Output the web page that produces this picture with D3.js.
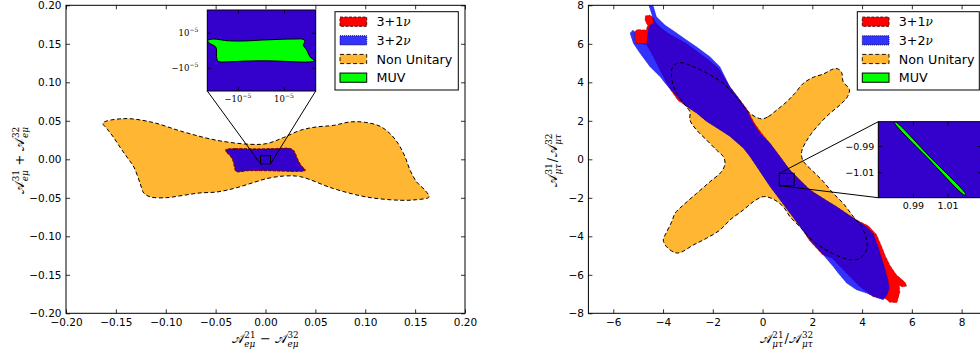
<!DOCTYPE html>
<html><head><meta charset="utf-8">
<script src="https://cdn.jsdelivr.net/npm/d3@7"></script>
<style>body{margin:0;background:#fff}svg{display:block}</style>
</head><body><svg id="c" width="980" height="360"></svg>
<script>
// ---------------- data ----------------
const leftXTicks=[-0.20,-0.15,-0.10,-0.05,0.00,0.05,0.10,0.15,0.20];
const leftYTicks=[-0.20,-0.15,-0.10,-0.05,0.00,0.05,0.10,0.15,0.20];
const rightXTicks=[-6,-4,-2,0,2,4,6,8];
const rightYTicks=[-8,-6,-4,-2,0,2,4,6,8];
const leftInsetTicks=[-1e-5,1e-5];
const rightInsetXTicks=[0.99,1.01];
const rightInsetYTicks=[-1.01,-0.99];
const legendLabels=[["3+1","ν"],["3+2","ν"],["Non Unitary",""],["MUV",""]];

// left panel (A21-A32 vs A31+A32, e-mu)
const leftNonUnitary=[[-0.163,0.047],[-0.1425,0.0528],[-0.115,0.0485],[-0.082,0.0355],[-0.049,0.0247],[-0.0155,0.0195],[0.0012,0.0204],[0.018,0.0282],[0.035,0.0377],[0.051,0.042],[0.068,0.044],[0.0847,0.0485],[0.100,0.048],[0.1148,0.0429],[0.1248,0.0334],[0.133,0.0204],[0.140,0.003],[0.145,-0.0143],[0.1516,-0.0295],[0.160,-0.0403],[0.164,-0.049],[0.1516,-0.0524],[0.135,-0.0532],[0.1015,-0.049],[0.068,-0.038],[0.035,-0.0226],[0.018,-0.0218],[0.0012,-0.0251],[-0.0155,-0.0316],[-0.032,-0.038],[-0.049,-0.0425],[-0.0657,-0.0437],[-0.0825,-0.0468],[-0.099,-0.0498],[-0.115,-0.049],[-0.122,-0.0437],[-0.1256,-0.0316],[-0.132,-0.010],[-0.139,0.003],[-0.146,0.016],[-0.1526,0.029],[-0.159,0.0398]];
const leftRed=[[-0.0398,0.0126],[-0.0306,0.0140],[-0.0105,0.0136],[0.0095,0.0140],[0.0251,0.0140],[0.0286,0.0110],[0.0320,0.0014],[0.0354,-0.0072],[0.0400,-0.0144],[0.0330,-0.0158],[0.0162,-0.0154],[-0.0005,-0.0149],[-0.0172,-0.0149],[-0.0296,-0.0158],[-0.0313,-0.0096],[-0.0330,-0.0009],[-0.0364,0.0058],[-0.0398,0.0101]];
const leftBlue=[[-0.0389,0.0121],[-0.0306,0.0134],[-0.0105,0.0130],[0.0095,0.0134],[0.0246,0.0134],[0.0279,0.0108],[0.0313,0.0013],[0.0346,-0.0074],[0.0389,-0.0139],[0.0329,-0.0152],[0.0162,-0.0148],[-0.0005,-0.0143],[-0.0172,-0.0143],[-0.0289,-0.0152],[-0.0306,-0.0096],[-0.0323,-0.0009],[-0.0356,0.0056],[-0.0389,0.0099]];
const leftMUV=[[-2.29e-5,0.58e-5],[-2.07e-5,0.64e-5],[-1.42e-5,0.54e-5],[-0.70e-5,0.53e-5],[0.03e-5,0.58e-5],[0.75e-5,0.62e-5],[1.48e-5,0.64e-5],[1.84e-5,0.62e-5],[1.91e-5,0.49e-5],[1.84e-5,0.30e-5],[1.99e-5,0.01e-5],[2.13e-5,-0.37e-5],[2.32e-5,-0.60e-5],[2.06e-5,-0.67e-5],[1.48e-5,-0.66e-5],[0.75e-5,-0.62e-5],[0.03e-5,-0.60e-5],[-0.70e-5,-0.62e-5],[-1.42e-5,-0.66e-5],[-1.86e-5,-0.63e-5],[-1.93e-5,-0.37e-5],[-1.93e-5,0.01e-5],[-1.97e-5,0.20e-5],[-2.22e-5,0.39e-5],[-2.32e-5,0.54e-5]];
const leftZoomX=[-0.005,0.005], leftZoomY=[-0.006,0.0047];
const leftInsetX=[-2.33e-5,2.38e-5], leftInsetY=[-2.33e-5,2.30e-5];

// right panel (A21/A32 vs A31/A32, mu-tau)
const rightNonUnitary=[[-0.04,2.10],[0.23,2.22],[0.57,2.56],[0.97,2.99],[1.30,3.43],[1.64,3.95],[2.04,4.26],[2.44,4.43],[2.84,4.69],[3.04,4.69],[3.18,4.50],[3.24,4.03],[3.49,3.63],[3.41,3.25],[3.11,2.82],[2.71,2.39],[2.31,1.87],[1.97,1.35],[1.71,0.83],[1.57,0.40],[1.61,-0.04],[1.77,-0.30],[2.11,-0.73],[2.44,-1.16],[2.84,-1.77],[3.24,-2.29],[3.65,-2.98],[3.98,-3.50],[4.18,-4.19],[4.18,-4.71],[3.91,-5.14],[3.58,-5.23],[3.11,-5.06],[2.44,-4.62],[1.91,-4.10],[1.50,-3.50],[1.10,-2.98],[0.83,-2.46],[0.40,-2.05],[0.03,-1.94],[-0.37,-2.20],[-0.77,-2.63],[-1.31,-3.15],[-1.71,-3.67],[-2.25,-4.10],[-2.78,-4.45],[-3.32,-4.85],[-3.52,-4.85],[-3.86,-4.54],[-3.99,-4.19],[-3.88,-3.84],[-3.65,-3.24],[-3.52,-2.81],[-3.18,-2.37],[-2.65,-1.77],[-2.11,-1.16],[-1.65,-0.64],[-1.51,-0.21],[-1.58,0.14],[-1.85,0.48],[-2.25,1.00],[-2.65,1.52],[-2.92,2.04],[-2.92,2.47],[-3.18,2.91],[-3.52,3.60],[-3.65,4.20],[-3.61,4.81],[-3.32,5.02],[-2.78,4.81],[-2.11,4.38],[-1.58,3.95],[-1.31,3.60],[-0.91,3.00],[-0.51,2.39]];
const rightRed=[[-4.72,7.20],[-4.72,7.45],[-4.55,7.50],[-4.42,7.40],[-4.30,7.12],[-4.15,6.90],[-3.80,6.55],[-3.10,6.05],[-2.20,5.20],[-1.75,4.70],[-1.33,3.80],[-1.00,3.25],[-0.62,2.60],[-0.33,1.88],[-0.04,1.36],[0.30,0.83],[0.70,0.14],[1.10,-0.56],[1.50,-1.07],[1.91,-1.59],[2.44,-2.03],[2.98,-2.46],[3.38,-2.81],[3.78,-3.15],[4.25,-3.45],[4.58,-3.90],[4.78,-4.50],[4.93,-5.00],[5.12,-5.50],[5.38,-6.00],[5.72,-6.38],[5.80,-6.58],[5.62,-6.64],[5.50,-6.55],[5.52,-6.90],[5.40,-7.45],[5.10,-7.42],[4.95,-7.25],[4.72,-7.22],[4.44,-7.14],[3.91,-6.62],[3.51,-6.10],[3.10,-5.55],[2.80,-5.15],[2.40,-4.95],[1.88,-4.22],[1.50,-3.45],[1.10,-2.78],[0.70,-2.09],[0.30,-1.40],[0.03,-0.88],[-0.24,-0.36],[-0.51,0.16],[-0.77,0.59],[-1.31,1.20],[-1.71,1.54],[-2.25,1.98],[-2.65,2.41],[-3.05,2.76],[-3.40,3.05],[-3.75,3.70],[-3.99,4.29],[-4.39,5.33],[-4.66,5.95],[-5.13,6.05],[-5.15,6.60],[-5.05,6.74],[-4.68,6.72],[-4.62,6.95]];
const rightBlue=[[-4.62,8.10],[-4.42,8.10],[-4.26,7.41],[-3.92,6.98],[-3.52,6.63],[-3.05,6.20],[-2.65,5.85],[-2.11,5.33],[-1.71,4.81],[-1.31,3.77],[-0.91,3.08],[-0.64,2.56],[-0.37,1.87],[-0.10,1.35],[0.30,0.83],[0.70,0.14],[1.10,-0.56],[1.50,-1.07],[1.91,-1.59],[2.44,-2.03],[2.98,-2.46],[3.38,-2.81],[3.78,-3.15],[4.18,-3.50],[4.45,-3.85],[4.65,-4.54],[4.75,-5.00],[4.90,-5.60],[5.05,-6.30],[5.10,-6.70],[5.00,-7.05],[4.85,-7.31],[4.65,-7.22],[4.18,-6.96],[3.78,-6.79],[3.38,-6.44],[3.04,-5.92],[2.84,-5.58],[2.44,-4.97],[1.91,-4.19],[1.50,-3.50],[1.10,-2.80],[0.70,-2.11],[0.30,-1.42],[0.03,-0.90],[-0.24,-0.38],[-0.51,0.14],[-0.77,0.57],[-1.31,1.18],[-1.71,1.52],[-2.25,1.96],[-2.65,2.39],[-3.05,2.73],[-3.32,3.08],[-3.92,3.95],[-4.12,4.29],[-4.53,4.81],[-4.93,5.51],[-5.20,6.03],[-5.33,6.55],[-5.22,6.72],[-5.13,6.62],[-5.13,6.05],[-4.66,6.00],[-4.60,6.70],[-4.55,6.95],[-4.38,7.10],[-4.45,7.50],[-4.55,7.90]];
const rightMUV=[[0.9800,-0.9718],[1.0000,-0.9985],[1.0205,-1.0268],[1.0198,-1.0272],[0.9995,-1.0005],[0.9794,-0.9722]];
const rightZoomX=[0.67,1.27], rightZoomY=[-1.37,-0.73];
const rightInsetX=[0.97,1.03], rightInsetY=[-1.0293,-0.9715];

const leftXLabel=[{b:"𝒜",sup:"21",sub:"eμ"},{op:"−",pad:4},{b:"𝒜",sup:"32",sub:"eμ"}];
const leftYLabel=[{b:"𝒜",sup:"31",sub:"eμ"},{op:"+",pad:4},{b:"𝒜",sup:"32",sub:"eμ"}];
const rightXLabel=[{b:"𝒜",sup:"21",sub:"μτ"},{op:"/",pad:0.5},{b:"𝒜",sup:"32",sub:"μτ"}];
const rightYLabel=[{b:"𝒜",sup:"31",sub:"μτ"},{op:"/",pad:0.5},{b:"𝒜",sup:"32",sub:"μτ"}];

// ---------------- styles ----------------
const ST={
  red:{fill:"#ff0000",op:1,stroke:"#400",sw:0.7,dash:"3,1.5"},
  blue:{fill:"#0000ff",op:0.8,stroke:"#003",sw:0.6,dash:"1,1.2"},
  orange:{fill:"#ffa500",op:0.8,stroke:"#000",sw:1,dash:"4,2.5"},
  green:{fill:"#00ff00",op:1,stroke:"#000",sw:1,dash:null}
};
const SANS="DejaVu Sans", SERIF="DejaVu Serif";
const svg=d3.select("#c");
const defs=svg.append("defs");

// scales
const lx=d3.scaleLinear([-0.2,0.2],[66,465]), ly=d3.scaleLinear([-0.2,0.2],[313.3,5.3]);
const rx=d3.scaleLinear([-7,9],[588.4,986.5]), ry=d3.scaleLinear([-8,8],[313.3,5.3]);
const lix=d3.scaleLinear(leftInsetX,[207.3,315.7]), liy=d3.scaleLinear(leftInsetY,[91,10]);
const rix=d3.scaleLinear(rightInsetX,[878.3,982.1]), riy=d3.scaleLinear(rightInsetY,[197.7,121.7]);

let clipN=0;
function clipFor(x,y){
  const id="clip"+(clipN++);
  const [x0,x1]=x.range(), [y0,y1]=y.range();
  defs.append("clipPath").attr("id",id).append("rect").attr("x",x0).attr("y",y1).attr("width",x1-x0).attr("height",y0-y1);
  return "url(#"+id+")";
}
function region(g,data,x,y,st,smooth,withStroke=true,withFill=true){
  const line=d3.line().x(d=>x(d[0])).y(d=>y(d[1])).curve(smooth?d3.curveCatmullRomClosed.alpha(0.5):d3.curveLinearClosed);
  const p=g.append("path").attr("d",line(data));
  if(withFill) p.attr("fill",st.fill).attr("fill-opacity",st.op); else p.attr("fill","none");
  if(withStroke){p.attr("stroke",st.stroke).attr("stroke-width",st.sw); if(st.dash)p.attr("stroke-dasharray",st.dash);} else p.attr("stroke","none");
  return p;
}
function axes(g,x,y,xt,yt,fmtX,fmtY,fs,pad){
  const [x0,x1]=x.range(), [y0,y1]=y.range();
  const style=s=>{s.select(".domain").remove();s.selectAll("line").attr("stroke","#000").attr("stroke-width",0.8);
    s.selectAll("text").attr("font-family",SANS).attr("font-size",fs).attr("fill","#000");};
  g.append("g").attr("transform",`translate(0,${y0})`).call(d3.axisBottom(x).tickValues(xt).tickSize(-4).tickPadding(pad[0]).tickFormat(fmtX)).call(style);
  g.append("g").attr("transform",`translate(0,${y1})`).call(d3.axisTop(x).tickValues(xt).tickSize(-4).tickFormat("")).call(style);
  g.append("g").attr("transform",`translate(${x0},0)`).call(d3.axisLeft(y).tickValues(yt).tickSize(-4).tickPadding(pad[1]).tickFormat(fmtY)).call(style);
  g.append("g").attr("transform",`translate(${x1},0)`).call(d3.axisRight(y).tickValues(yt).tickSize(-4).tickFormat("")).call(style);
  g.append("rect").attr("x",x0).attr("y",y1).attr("width",x1-x0).attr("height",y0-y1).attr("fill","none").attr("stroke","#000").attr("stroke-width",1);
}
function mathText(parent,parts,size){
  const g=parent.append("g");
  let x=0;
  parts.forEach(p=>{
    if(p.b){
      const t=g.append("text").attr("x",x).attr("y",0).attr("font-family",SERIF).attr("font-size",size).text(p.b);
      x+=t.node().getComputedTextLength();
      let w=0;
      if(p.sup){const s=g.append("text").attr("x",x+0.5).attr("y",-0.42*size).attr("font-family",SERIF).attr("font-size",size*0.68).text(p.sup);w=Math.max(w,s.node().getComputedTextLength());}
      if(p.sub){const s=g.append("text").attr("x",x+0.5).attr("y",0.30*size).attr("font-family",SERIF).attr("font-style","italic").attr("font-size",size*0.68).text(p.sub);w=Math.max(w,s.node().getComputedTextLength());}
      x+=w+1;
    }
    if(p.op){
      x+=p.pad;
      const t=g.append("text").attr("x",x).attr("y",0).attr("font-family",SERIF).attr("font-size",size).text(p.op);
      x+=t.node().getComputedTextLength()+p.pad;
    }
  });
  return {g,w:x};
}
function legend(g,x0,y0,w){
  g.append("rect").attr("x",x0).attr("y",y0).attr("width",w).attr("height",78.3).attr("fill","#fff").attr("stroke","#000").attr("stroke-width",1);
  const sts=[ST.red,ST.blue,ST.orange,ST.green];
  legendLabels.forEach((lab,i)=>{
    const cy=y0+10+i*18.65, st=sts[i];
    const r=g.append("rect").attr("x",x0+5).attr("y",cy-4.6).attr("width",26.7).attr("height",9.2)
      .attr("fill",st.fill).attr("fill-opacity",st.op).attr("stroke",st.stroke).attr("stroke-width",i==3?1:0.9);
    if(st.dash) r.attr("stroke-dasharray",i==1?"1,1":st.dash);
    const t=g.append("text").attr("x",x0+41.5).attr("y",cy+4.6).attr("font-family",SANS).attr("font-size",12.7).attr("fill","#000").text(lab[0]);
    if(lab[1]) t.append("tspan").attr("font-family",SERIF).attr("font-style","italic").attr("font-size",12).text(lab[1]);
  });
}

// ================= LEFT PANEL =================
const L=svg.append("g");
const lp=L.append("g").attr("clip-path",clipFor(lx,ly));
region(lp,leftNonUnitary,lx,ly,ST.orange,true);
region(lp,leftRed,lx,ly,ST.red,true);
region(lp,leftBlue,lx,ly,ST.blue,true);
region(lp,leftMUV,lx,ly,ST.green,false,false);
axes(L,lx,ly,leftXTicks,leftYTicks,d3.format(".2f"),d3.format(".2f"),10.5,[5.5,4.5]);
L.append("rect").attr("x",lx(leftZoomX[0])).attr("y",ly(leftZoomY[1])).attr("width",lx(leftZoomX[1])-lx(leftZoomX[0])).attr("height",ly(leftZoomY[0])-ly(leftZoomY[1])).attr("fill","none").attr("stroke","#000").attr("stroke-width",1);
L.append("line").attr("x1",lx(leftZoomX[0])).attr("y1",ly(leftZoomY[0])).attr("x2",lix.range()[0]).attr("y2",liy.range()[0]).attr("stroke","#000").attr("stroke-width",1);
L.append("line").attr("x1",lx(leftZoomX[1])).attr("y1",ly(leftZoomY[0])).attr("x2",lix.range()[1]).attr("y2",liy.range()[0]).attr("stroke","#000").attr("stroke-width",1);
const LI=svg.append("g");
LI.append("rect").attr("x",lix.range()[0]).attr("y",liy.range()[1]).attr("width",lix.range()[1]-lix.range()[0]).attr("height",liy.range()[0]-liy.range()[1]).attr("fill","#fff");
const lip=LI.append("g").attr("clip-path",clipFor(lix,liy));
region(lip,leftNonUnitary,lix,liy,ST.orange,true);
region(lip,leftRed,lix,liy,ST.red,true);
region(lip,leftBlue,lix,liy,ST.blue,true);
region(lip,leftMUV,lix,liy,ST.green,true);
axes(LI,lix,liy,leftInsetTicks,leftInsetTicks,()=>"",()=>"",9,[4,4]);
leftInsetTicks.forEach(v=>{
  const neg=v<0;
  const tx=LI.append("text").attr("x",lix(v)).attr("y",liy.range()[0]+10.5).attr("text-anchor","middle").attr("font-family",SERIF).attr("font-size",8.5).text((neg?"−":"")+"10");
  tx.append("tspan").attr("dy",-3.5).attr("font-size",6).text("−5");
  const ty=LI.append("text").attr("x",lix.range()[0]-9).attr("y",liy(v)+3).attr("text-anchor","end").attr("font-family",SERIF).attr("font-size",8.5).text((neg?"−":"")+"10");
  ty.append("tspan").attr("dy",-3.5).attr("font-size",6).text("−5");
});
legend(svg.append("g"),335,11.7,123.3);
{const m=mathText(svg,leftXLabel,13); m.g.attr("transform",`translate(${265.5-m.w/2},343)`);}
{const m=mathText(svg,leftYLabel,13); m.g.attr("transform",`translate(24,${160+m.w/2}) rotate(-90)`);}

// ================= RIGHT PANEL =================
const R=svg.append("g");
const rp=R.append("g").attr("clip-path",clipFor(rx,ry));
region(rp,rightNonUnitary,rx,ry,ST.orange,true,false);
region(rp,rightRed,rx,ry,{...ST.red,stroke:"#500",sw:0.35},false);
region(rp,rightBlue,rx,ry,{...ST.blue,sw:0.25},false);
region(rp,rightNonUnitary,rx,ry,ST.orange,true,true,false);
region(rp,rightMUV,rx,ry,ST.green,false);
axes(R,rx,ry,rightXTicks,rightYTicks,d3.format("d"),d3.format("d"),10.5,[5.5,4.5]);
R.append("rect").attr("x",rx(rightZoomX[0])).attr("y",ry(rightZoomY[1])).attr("width",rx(rightZoomX[1])-rx(rightZoomX[0])).attr("height",ry(rightZoomY[0])-ry(rightZoomY[1])).attr("fill","none").attr("stroke","#000").attr("stroke-width",1);
R.append("line").attr("x1",rx(rightZoomX[0])).attr("y1",ry(rightZoomY[1])).attr("x2",rix.range()[0]).attr("y2",riy.range()[1]).attr("stroke","#000").attr("stroke-width",1);
R.append("line").attr("x1",rx(rightZoomX[0])).attr("y1",ry(rightZoomY[0])).attr("x2",rix.range()[0]).attr("y2",riy.range()[0]).attr("stroke","#000").attr("stroke-width",1);
const RI=svg.append("g");
RI.append("rect").attr("x",rix.range()[0]).attr("y",riy.range()[1]).attr("width",rix.range()[1]-rix.range()[0]).attr("height",riy.range()[0]-riy.range()[1]).attr("fill","#fff");
const rip=RI.append("g").attr("clip-path",clipFor(rix,riy));
region(rip,rightNonUnitary,rix,riy,ST.orange,true,false);
region(rip,rightRed,rix,riy,ST.red,false,false);
region(rip,rightBlue,rix,riy,ST.blue,false,false);
region(rip,rightMUV,rix,riy,ST.green,true);
axes(RI,rix,riy,rightInsetXTicks,rightInsetYTicks,d3.format(".2f"),d3.format(".2f"),9.5,[5,4]);
legend(svg.append("g"),857.3,11.7,122);
{const m=mathText(svg,rightXLabel,13); m.g.attr("transform",`translate(${786.7-m.w/2},343)`);}
{const m=mathText(svg,rightYLabel,13); m.g.attr("transform",`translate(557,${160+m.w/2}) rotate(-90)`);}
</script></body></html>
